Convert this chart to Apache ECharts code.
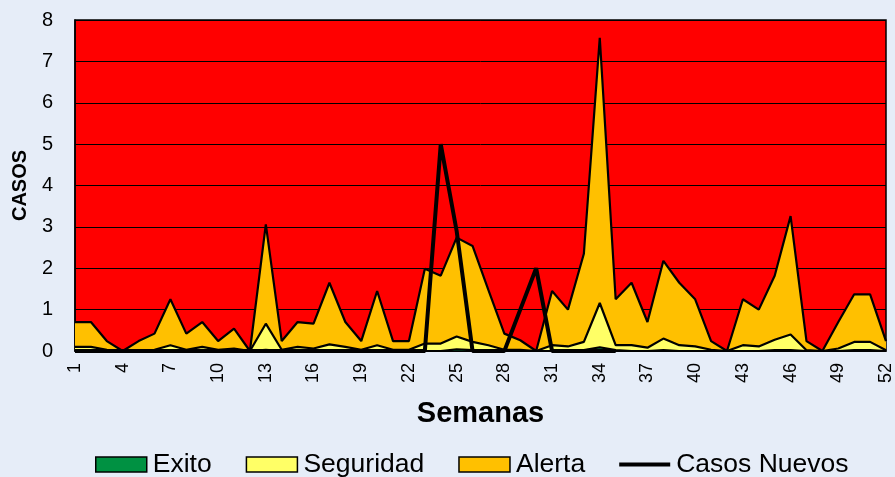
<!DOCTYPE html>
<html>
<head>
<meta charset="utf-8">
<script src="https://cdn.jsdelivr.net/npm/echarts@6/dist/echarts.min.js"></script>
<style>
  html, body { margin: 0; padding: 0; background: #E6EDF8; }
  #chart { width: 895px; height: 477px; }
</style>
</head>
<body>
<div id="chart"></div>
<script>
const semanas = ['1','2','3','4','5','6','7','8','9','10','11','12','13','14','15','16','17','18','19','20',
  '21','22','23','24','25','26','27','28','29','30','31','32','33','34','35','36','37','38','39','40',
  '41','42','43','44','45','46','47','48','49','50','51','52'];

// upper limits of each zone
const alerta = [0.70, 0.70, 0.24, 0, 0.24, 0.42, 1.25, 0.42, 0.70, 0.24, 0.54, 0, 3.06, 0.24, 0.70, 0.66, 1.65,
  0.70, 0.24, 1.45, 0.24, 0.24, 1.99, 1.82, 2.74, 2.54, 1.47, 0.42, 0.26, 0, 1.45, 1.00, 2.35, 7.57,
  1.25, 1.65, 0.70, 2.18, 1.65, 1.25, 0.24, 0, 1.25, 1.00, 1.82, 3.26, 0.24, 0, 0.70, 1.37, 1.37, 0.24];
const seguridad = [0.10, 0.10, 0.03, 0, 0.02, 0.03, 0.14, 0.03, 0.10, 0.03, 0.06, 0, 0.66, 0.03, 0.10, 0.06, 0.16,
  0.10, 0.03, 0.14, 0.03, 0.03, 0.18, 0.18, 0.35, 0.22, 0.14, 0.03, 0.03, 0, 0.14, 0.11, 0.22, 1.16,
  0.14, 0.14, 0.08, 0.30, 0.14, 0.11, 0.03, 0, 0.14, 0.11, 0.27, 0.40, 0.02, 0, 0.06, 0.22, 0.22, 0.02];
const exito = [0.02, 0.02, 0, 0, 0, 0, 0.02, 0, 0.02, 0, 0, 0, 0.03, 0, 0, 0, 0.02,
  0, 0, 0.02, 0, 0, 0, 0, 0.04, 0.02, 0, 0, 0, 0, 0, 0, 0.02, 0.09,
  0.02, 0, 0, 0.02, 0, 0, 0, 0, 0, 0, 0.02, 0.02, 0, 0, 0, 0.02, 0.02, 0];
const casosNuevos = [0, 0, 0, 0, 0, 0, 0, 0, 0, 0, 0, 0, 0, 0, 0, 0, 0, 0, 0, 0, 0, 0, 0, 5.0, 2.9,
  0, 0, 0, 1, 2, 0, 0, 0, 0, 0,
  null, null, null, null, null, null, null, null, null, null, null, null, null, null, null, null, null];

const font = 'Arial, "Liberation Sans", sans-serif';
const myChart = echarts.init(document.getElementById('chart'));

function zona(name, data, color) {
  return {
    name: name,
    type: 'line',
    data: data,
    color: color,
    showSymbol: false,
    symbol: 'none',
    lineStyle: { color: '#000', width: 2.2 },
    areaStyle: { color: color, opacity: 1, origin: 'start' },
    itemStyle: { color: color },
  };
}

const option = {
  backgroundColor: '#E6EDF8',
  animation: false,
  grid: {
    left: 75,
    right: 9,
    top: 20,
    bottom: 126,
    show: true,
    backgroundColor: '#FF0000',
    borderColor: '#000',
    borderWidth: 1.5,
  },
  legend: {
    left: 95,
    top: 451,
    padding: 0,
    itemWidth: 51,
    itemHeight: 15,
    itemGap: 34,
    icon: 'rect',
    itemStyle: { borderColor: '#000', borderWidth: 1.5 },
    textStyle: { fontFamily: font, fontSize: 26.5, color: '#000', padding: [0, 0, 0, 1] },
    data: [
      { name: 'Exito' },
      { name: 'Seguridad' },
      { name: 'Alerta' },
      {
        name: 'Casos Nuevos',
        icon: 'path://M0,0 L100,0 L100,8 L0,8 Z',
        itemStyle: { color: '#000', borderWidth: 0 },
      },
    ],
  },
  xAxis: {
    type: 'category',
    data: semanas,
    boundaryGap: false,
    name: 'Semanas',
    nameLocation: 'middle',
    nameGap: 48,
    nameTextStyle: { fontFamily: font, fontSize: 29, fontWeight: 'bold', color: '#000' },
    axisLine: { show: true, lineStyle: { color: '#000', width: 1.5 } },
    axisTick: { show: false },
    axisLabel: {
      interval: 2,
      rotate: 90,
      margin: 12,
      fontFamily: font,
      fontSize: 18,
      color: '#000',
    },
    splitLine: { show: false },
  },
  yAxis: {
    type: 'value',
    min: 0,
    max: 8,
    interval: 1,
    name: 'CASOS',
    nameLocation: 'middle',
    nameGap: 45,
    nameTextStyle: { fontFamily: font, fontSize: 20, fontWeight: 'bold', color: '#000' },
    axisLine: { show: true, lineStyle: { color: '#000', width: 1.5 } },
    axisTick: { show: false },
    axisLabel: { fontFamily: font, fontSize: 20, color: '#000', margin: 22 },
    splitLine: { show: true, lineStyle: { color: '#000', width: 1 } },
  },
  series: [
    zona('Alerta', alerta, '#FFC000'),
    zona('Seguridad', seguridad, '#FFFF66'),
    zona('Exito', exito, '#009142'),
    {
      name: 'Casos Nuevos',
      type: 'line',
      data: casosNuevos,
      color: '#000',
      showSymbol: false,
      symbol: 'none',
      connectNulls: false,
      lineStyle: { color: '#000', width: 4 },
      z: 5,
    },
  ],
};

myChart.setOption(option);
</script>
</body>
</html>
